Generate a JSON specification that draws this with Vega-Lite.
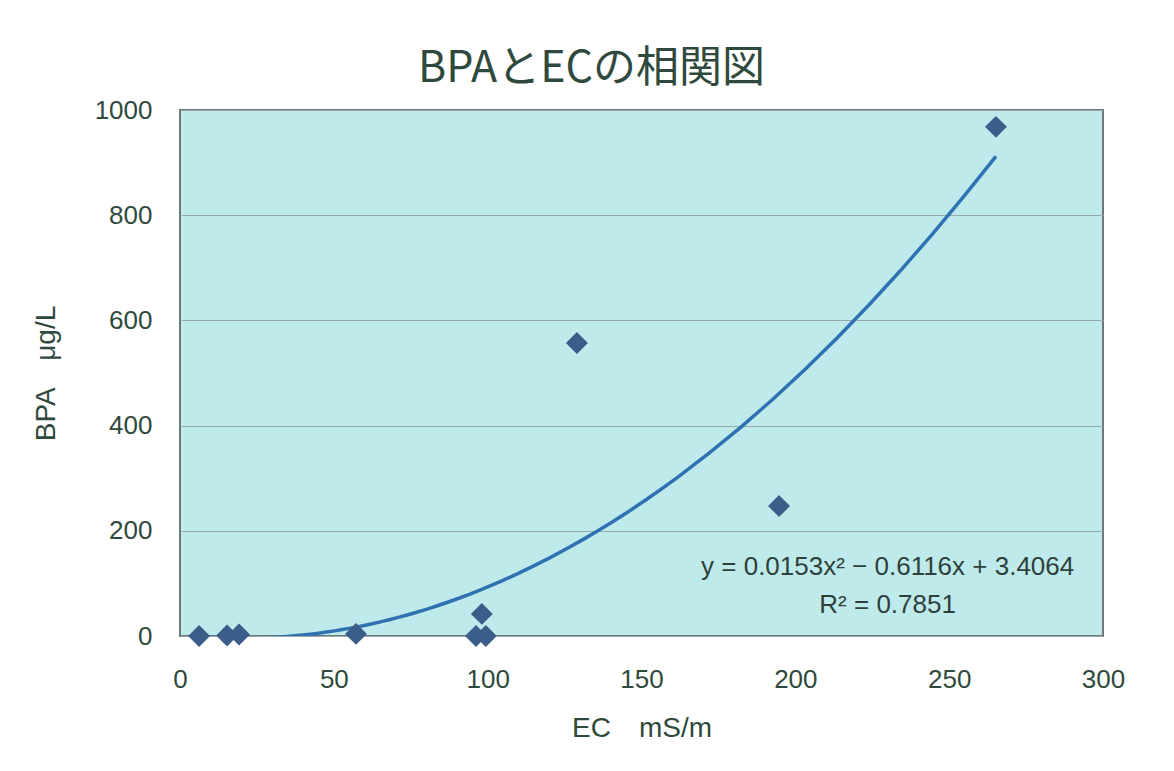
{
  "$schema": "https://vega.github.io/schema/vega-lite/v6.json",
  "autosize": {"type": "none"},
  "width": 923,
  "height": 526,
  "padding": {"left": 180, "top": 110, "right": 71, "bottom": 135},
  "background": "white",
  "title": {
    "text": "BPAとECの相関図",
    "font": "Noto Sans CJK JP",
    "fontSize": 43,
    "fontWeight": "normal",
    "color": "#2f4a3c",
    "anchor": "middle",
    "dx": -50,
    "offset": 6
  },
  "config": {
    "view": {"fill": "#bfeaeb", "stroke": "#6f7878", "strokeWidth": 2},
    "axis": {
      "labelFont": "Liberation Sans",
      "titleFont": "Liberation Sans, Noto Sans CJK JP",
      "labelColor": "#2f4a3c",
      "titleColor": "#2f4a3c",
      "labelFontSize": 26,
      "titleFontSize": 28,
      "titleFontWeight": "normal",
      "labelFlush": false,
      "labelOverlap": false,
      "domain": false,
      "ticks": false
    }
  },
  "data": {
    "values": [
      {"EC": 6.2, "BPA": 0},
      {"EC": 15.3, "BPA": 1},
      {"EC": 19.2, "BPA": 3},
      {"EC": 57.2, "BPA": 4},
      {"EC": 96.2, "BPA": 0},
      {"EC": 99.4, "BPA": 0},
      {"EC": 98.1, "BPA": 42},
      {"EC": 129, "BPA": 557},
      {"EC": 194.7, "BPA": 247},
      {"EC": 265.2, "BPA": 968}
    ]
  },
  "layer": [
    {
      "transform": [
        {"regression": "BPA", "on": "EC", "method": "poly", "order": 2}
      ],
      "mark": {"type": "line", "color": "#2f72b2", "strokeWidth": 3.5, "clip": true},
      "encoding": {
        "x": {
          "field": "EC", "type": "quantitative",
          "scale": {"domain": [0, 300]},
          "axis": {"values": [0, 50, 100, 150, 200, 250, 300], "format": "d", "grid": false, "labelPadding": 30, "title": "EC　mS/m", "titlePadding": 22}
        },
        "y": {
          "field": "BPA", "type": "quantitative",
          "scale": {"domain": [0, 1000]},
          "axis": {"values": [0, 200, 400, 600, 800, 1000], "format": "d", "grid": true, "gridColor": "#9aa9a9", "gridWidth": 1, "labelPadding": 28, "title": "BPA　μg/L", "titlePadding": 34}
        }
      }
    },
    {
      "mark": {"type": "point", "shape": "diamond", "filled": true, "size": 480, "color": "#3a5d8a", "opacity": 1, "clip": false},
      "encoding": {
        "x": {"field": "EC", "type": "quantitative"},
        "y": {"field": "BPA", "type": "quantitative"}
      }
    },
    {
      "data": {"values": [{"label": "y = 0.0153x² − 0.6116x + 3.4064"}]},
      "mark": {"type": "text", "font": "Liberation Sans", "fontSize": 26, "color": "#2f3f3a", "align": "center", "baseline": "middle"},
      "encoding": {
        "x": {"datum": 230},
        "y": {"datum": 131},
        "text": {"field": "label"}
      }
    },
    {
      "data": {"values": [{"label": "R² = 0.7851"}]},
      "mark": {"type": "text", "font": "Liberation Sans", "fontSize": 26, "color": "#2f3f3a", "align": "center", "baseline": "middle"},
      "encoding": {
        "x": {"datum": 230},
        "y": {"datum": 59},
        "text": {"field": "label"}
      }
    }
  ]
}
